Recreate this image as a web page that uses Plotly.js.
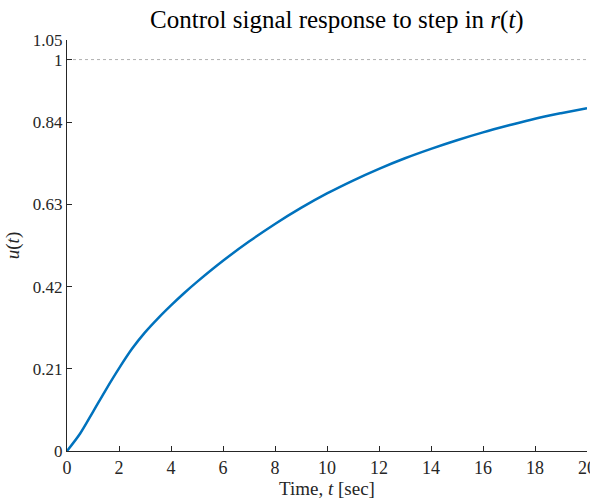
<!DOCTYPE html>
<html>
<head>
<meta charset="utf-8">
<script src="https://cdn.plot.ly/plotly-3.0.1.min.js"></script>
<style>html,body{margin:0;padding:0;background:#fff;}#chart{width:590px;height:499px;}</style>
</head>
<body>
<div id="chart"></div>
<script>
const timeSec = [0, 0.5, 1, 1.5, 2, 2.5, 3, 3.5, 4, 4.5, 5, 6, 7, 8, 9, 10, 11, 12, 13, 14, 15, 16, 17, 18, 19, 20];
const controlU = [0, 0.044, 0.10, 0.157, 0.211, 0.261, 0.303, 0.339, 0.372, 0.403, 0.432, 0.486, 0.535, 0.58, 0.621, 0.658, 0.691, 0.721, 0.748, 0.772, 0.794, 0.814, 0.832, 0.849, 0.863, 0.876];
const refTime = [0, 20];
const refLevel = [1, 1];
const xTickVals = [0, 2, 4, 6, 8, 10, 12, 14, 16, 18, 20];
const yTickVals = [0, 0.21, 0.42, 0.63, 0.84, 1, 1.05];
const yTickText = ['0', '0.21', '0.42', '0.63', '0.84', '1', '1.05'];

const axisColor = '#262626';
const fontFam = '"Liberation Serif", "DejaVu Serif", serif';

const traces = [
  {x: refTime, y: refLevel, mode: 'lines', line: {color: '#b0b0b0', width: 1, dash: 'dot'}, hoverinfo: 'skip'},
  {x: timeSec, y: controlU, mode: 'lines', line: {color: '#0072BD', width: 2.5, shape: 'spline', smoothing: 0.8}}
];

const layout = {
  width: 590, height: 499,
  margin: {l: 67, r: 3, t: 40, b: 48},
  paper_bgcolor: '#fff', plot_bgcolor: '#fff',
  showlegend: false,
  font: {family: fontFam, color: axisColor, size: 17},
  title: {text: 'Control signal response to step in <i>r</i>(<i>t</i>)', font: {family: fontFam, size: 25, color: '#000'}, x: 0.571, xanchor: 'center', y: 0.961, yanchor: 'middle'},
  xaxis: {
    range: [0, 20], tickvals: xTickVals, ticks: 'inside', ticklen: 5, tickcolor: axisColor,
    showline: true, linecolor: axisColor, linewidth: 1, showgrid: false, zeroline: false, mirror: false,
    ticklabeloverflow: 'allow', automargin: false,
    tickfont: {family: fontFam, size: 18, color: axisColor},
    title: {text: 'Time, <i>t</i> [sec]', font: {family: fontFam, size: 19, color: axisColor}, standoff: 1}
  },
  yaxis: {
    range: [0, 1.05], tickvals: yTickVals, ticktext: yTickText, ticks: 'inside', ticklen: 5, tickcolor: axisColor,
    showline: true, linecolor: axisColor, linewidth: 1, showgrid: false, zeroline: false, mirror: false,
    automargin: false,
    tickfont: {family: fontFam, size: 17, color: axisColor},
    title: {text: '<i>u</i>(<i>t</i>)', font: {family: fontFam, size: 19, color: axisColor}, standoff: 8}
  }
};

Plotly.newPlot('chart', traces, layout, {displayModeBar: false, staticPlot: true});
</script>
</body>
</html>
